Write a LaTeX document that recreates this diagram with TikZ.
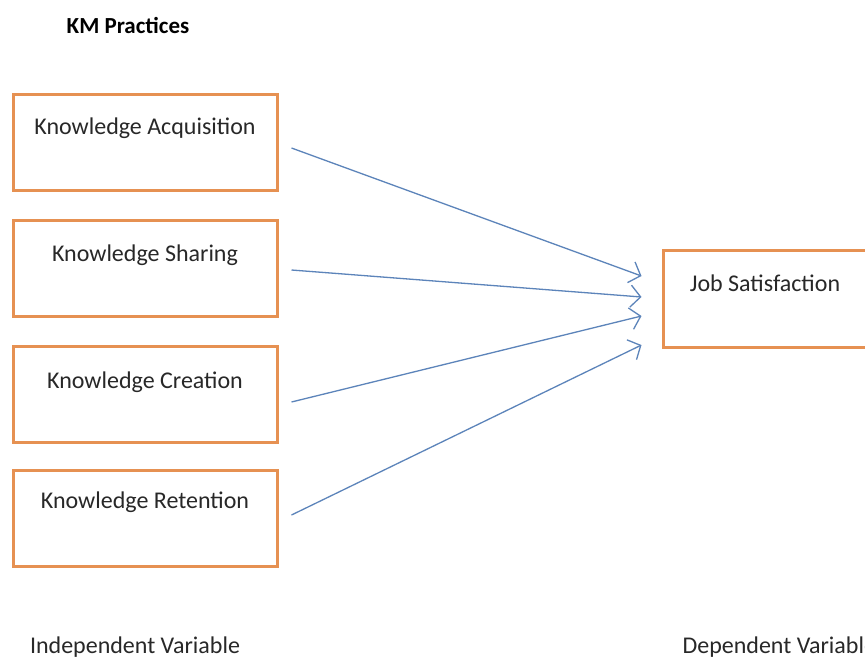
\documentclass[tikz,border=0pt]{standalone}
\usepackage{fontspec}
\setmainfont{Carlito}
\usetikzlibrary{arrows.meta}
\definecolor{boxorange}{RGB}{230,145,82}
\definecolor{arrowblue}{RGB}{92,132,186}
\definecolor{txt}{RGB}{40,40,40}
\tikzset{
  varbox/.style={draw=boxorange, line width=3pt, fill=white, rectangle, inner sep=0pt},
  boxtext/.style={font=\fontsize{24}{28}\selectfont, text=txt, anchor=center},
  plaintext/.style={font=\fontsize{24}{28}\selectfont, text=txt},
  arr/.style={draw=arrowblue, line width=1.3pt, -{Straight Barb[length=10pt,width=22pt,line width=1.3pt]}}
}
\begin{document}
\begin{tikzpicture}[x=1pt,y=-1pt]
\useasboundingbox (0,0) rectangle (865,659);
\fill[white] (0,0) rectangle (865,659);

\node[plaintext, font=\bfseries\fontsize{23}{27}\selectfont, text=black] (km) at (128,25) {KM Practices};

\node[varbox, minimum width=264pt, minimum height=96pt] (b1) at (145,142) {};
\node[varbox, minimum width=264pt, minimum height=96pt] (b2) at (145,268.5) {};
\node[varbox, minimum width=264pt, minimum height=96pt] (b3) at (145,394.5) {};
\node[varbox, minimum width=264pt, minimum height=96pt] (b4) at (145,518) {};
\node[varbox, minimum width=204pt, minimum height=97pt] (js) at (765,298.5) {};

\node[boxtext] (t1) at ([yshift=-36pt]b1.north) {Knowledge Acquisition};
\node[boxtext] (t2) at ([yshift=-36pt]b2.north) {Knowledge Sharing};
\node[boxtext] (t3) at ([yshift=-37pt]b3.north) {Knowledge Creation};
\node[boxtext] (t4) at ([yshift=-34pt]b4.north) {Knowledge Retention};
\node[boxtext] (tj) at ([yshift=-35pt]js.north) {Job Satisfaction};

\coordinate (s1) at ([xshift=13pt,yshift=-6pt]b1.east);
\coordinate (s2) at ([xshift=13pt,yshift=-1.5pt]b2.east);
\coordinate (s3) at ([xshift=13pt,yshift=-7.5pt]b3.east);
\coordinate (s4) at ([xshift=13pt,yshift=3pt]b4.east);
\coordinate (e1) at ([xshift=-20pt,yshift=22.5pt]js.west);
\coordinate (e2) at ([xshift=-20pt,yshift=1.5pt]js.west);
\coordinate (e3) at ([xshift=-20pt,yshift=-17.5pt]js.west);
\coordinate (e4) at ([xshift=-20pt,yshift=-46.5pt]js.west);

\draw[arr] (s1) -- (e1);
\draw[arr] (s2) -- (e2);
\draw[arr] (s3) -- (e3);
\draw[arr] (s4) -- (e4);

\node[plaintext] (iv) at (135,647) {Independent Variable};
\node[plaintext, anchor=west] (dv) at (679,647) {Dependent Variable};
\end{tikzpicture}
\end{document}
